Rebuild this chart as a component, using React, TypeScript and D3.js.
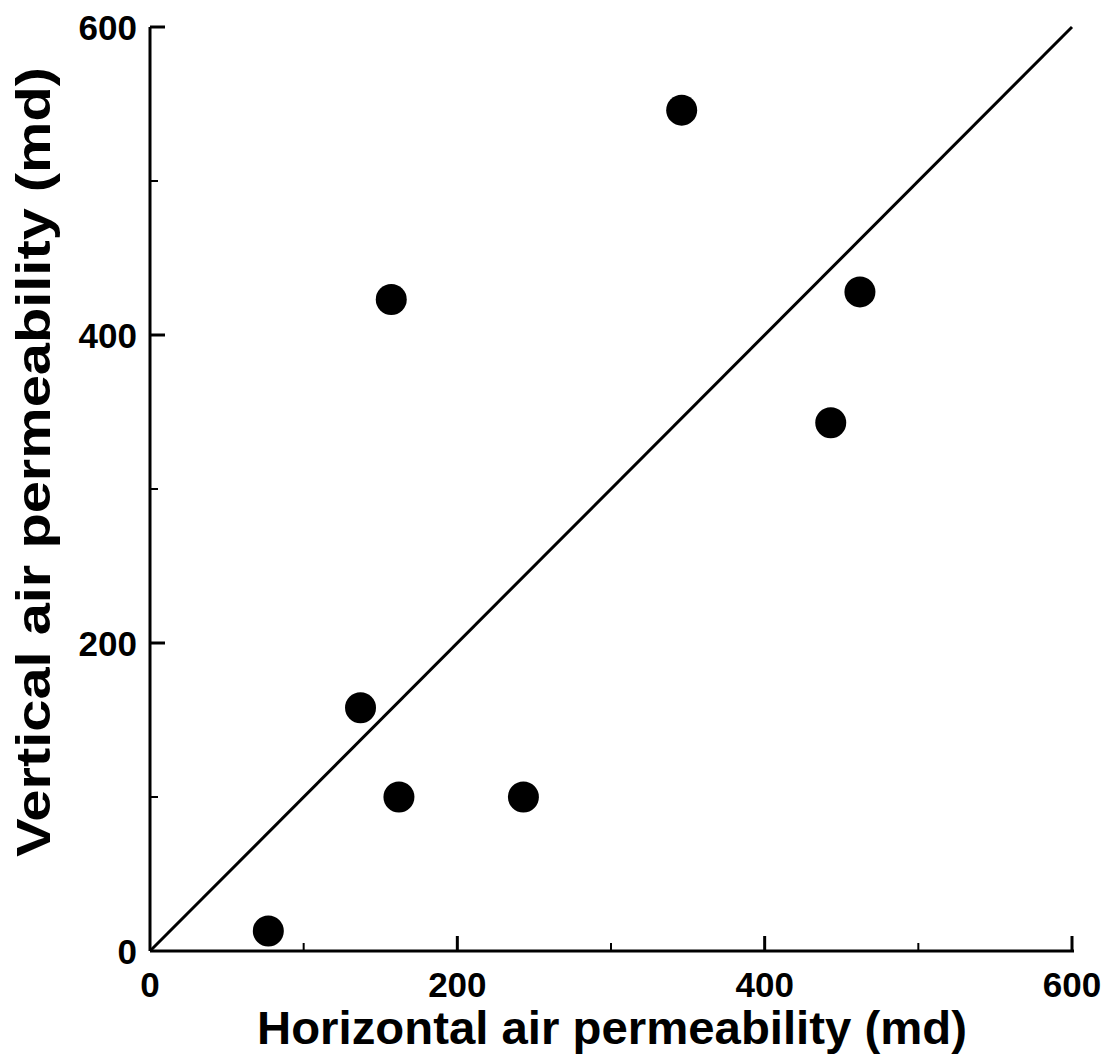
import React from "react";
import * as d3 from "d3";

const horizontal = [77, 137, 157, 162, 243, 346, 462, 443];
const vertical = [13, 158, 423, 100, 100, 546, 428, 343];
const majorTicks = [0, 200, 400, 600];
const minorTicks = [100, 300, 500];
const lineX = [0, 600];
const lineY = [0, 600];

const W = 1118;
const H = 1064;

export default function App() {
  const x = d3.scaleLinear().domain([0, 600]).range([150, 1072]);
  const y = d3.scaleLinear().domain([0, 600]).range([951, 27]);
  const font = "'Liberation Sans', Arial, Helvetica, sans-serif";
  const line = d3
    .line<number>()
    .x((_, i) => x(lineX[i]))
    .y((_, i) => y(lineY[i]));
  return (
    <svg
      width={W}
      height={H}
      style={{ position: "absolute", left: 0, top: 0, background: "#fff" }}
    >
      {/* axes */}
      <line x1={x(0)} x2={x(0)} y1={y(0)} y2={y(600)} stroke="#000" strokeWidth={3} />
      <line x1={x(0)} x2={x(600) + 2} y1={y(0)} y2={y(0)} stroke="#000" strokeWidth={3} />
      {majorTicks.map((t) => (
        <g key={"mx" + t}>
          {t > 0 && (
            <line x1={x(t)} x2={x(t)} y1={y(0)} y2={y(0) - 15} stroke="#000" strokeWidth={3} />
          )}
          {t > 0 && (
            <line x1={x(0)} x2={x(0) + 15} y1={y(t)} y2={y(t)} stroke="#000" strokeWidth={3} />
          )}
          <text
            x={x(t)}
            y={997}
            textAnchor="middle"
            fontFamily={font}
            fontWeight="bold"
            fontSize={35}
          >
            {t}
          </text>
          <text
            x={137}
            y={y(t) + 13}
            textAnchor="end"
            fontFamily={font}
            fontWeight="bold"
            fontSize={35}
          >
            {t}
          </text>
        </g>
      ))}
      {minorTicks.map((t) => (
        <g key={"mn" + t}>
          <line x1={x(t)} x2={x(t)} y1={y(0)} y2={y(0) - 8} stroke="#000" strokeWidth={2} />
          <line x1={x(0)} x2={x(0) + 8} y1={y(t)} y2={y(t)} stroke="#000" strokeWidth={2} />
        </g>
      ))}
      <path d={line(lineX) || ""} fill="none" stroke="#000" strokeWidth={3} />
      {horizontal.map((h, i) => (
        <circle key={i} cx={x(h)} cy={y(vertical[i])} r={15.5} fill="#000" />
      ))}
      <text
        x={612}
        y={1044}
        textAnchor="middle"
        fontFamily={font}
        fontWeight="bold"
        fontSize={46}
        textLength={710}
        lengthAdjust="spacingAndGlyphs"
      >
        Horizontal air permeability (md)
      </text>
      <text
        transform={`translate(50,462) rotate(-90)`}
        textAnchor="middle"
        fontFamily={font}
        fontWeight="bold"
        fontSize={48}
        textLength={790}
        lengthAdjust="spacingAndGlyphs"
      >
        Vertical air permeability (md)
      </text>
    </svg>
  );
}
